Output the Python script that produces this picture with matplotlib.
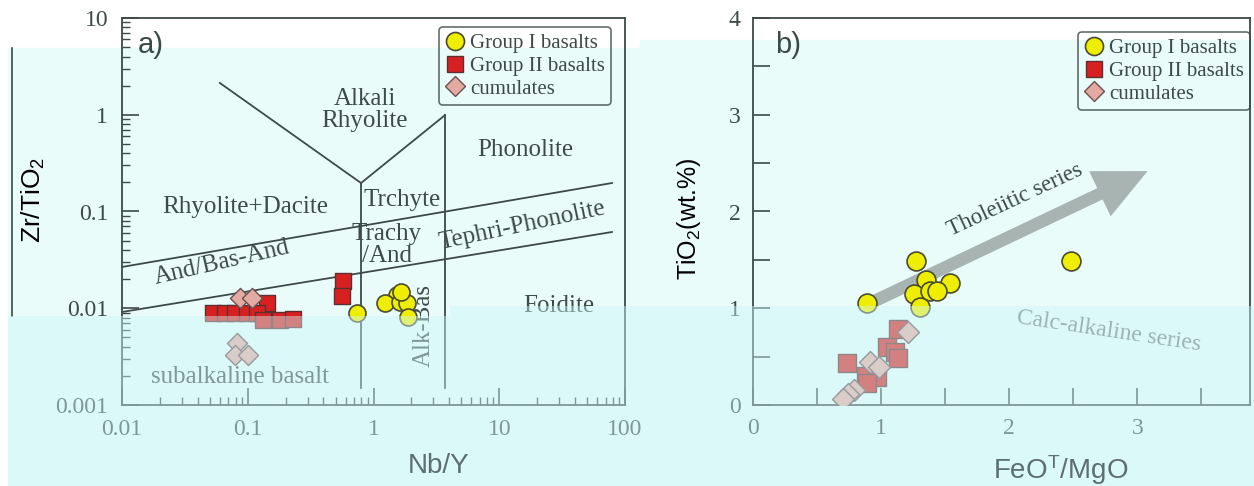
import matplotlib
matplotlib.use("Agg")
import matplotlib.pyplot as plt
from matplotlib.patches import Rectangle, FancyArrowPatch
from matplotlib.lines import Line2D
from matplotlib.ticker import FixedLocator, FuncFormatter, NullFormatter, LogLocator, MultipleLocator

SERIF = ["Liberation Serif", "DejaVu Serif"]
SANS = ["Liberation Sans", "DejaVu Sans"]
INK = "#3d4a47"
plt.rcParams.update({"font.family": SERIF, "mathtext.default": "regular",
                     "axes.edgecolor": INK, "xtick.color": INK, "ytick.color": INK,
                     "text.color": INK})

# ---- panel a: Nb/Y vs Zr/TiO2
a_g1_x = [0.74, 1.54, 1.23, 1.62, 1.85, 1.64, 1.88]
a_g1_y = [0.0089, 0.0137, 0.0113, 0.0116, 0.0113, 0.0147, 0.0081]
a_g2_x = [0.571, 0.566, 0.142, 0.053, 0.066, 0.079, 0.098, 0.118, 0.132, 0.18, 0.23]
a_g2_y = [0.0191, 0.0134, 0.0113, 0.0089, 0.0089, 0.0089, 0.0089, 0.0089, 0.0076, 0.0076, 0.0078]
a_cu_x = [0.087, 0.108, 0.082, 0.079, 0.100]
a_cu_y = [0.0128, 0.0128, 0.0044, 0.0033, 0.0033]

# Winchester & Floyd field boundaries
bnd_lines = [
    ([0.060, 0.796], [2.13, 0.197]),
    ([0.796, 3.7], [0.197, 0.99]),
    ([0.796, 0.796], [0.197, 0.0015]),
    ([3.7, 3.7], [0.99, 0.0015]),
    ([0.01, 78.8], [0.0267, 0.197]),
    ([0.01, 78.8], [0.00915, 0.0614]),
]
field_labels = [
    ("Alkali\nRhyolite", 0.855, 1.12, 0),
    ("Phonolite", 16.0, 0.43, 0),
    ("Rhyolite+Dacite", 0.095, 0.111, 0),
    ("Trchyte", 1.69, 0.131, 0),
    ("Trachy\n/And", 1.28, 0.045, 0),
    ("Tephri-Phonolite", 15.2, 0.072, 12),
    ("And/Bas-And", 0.062, 0.030, 13),
    ("Foidite", 30.0, 0.0105, 0),
    ("Alk-Bas", 2.52, 0.0067, 90),
    ("subalkaline basalt", 0.0867, 0.00195, 0),
]

# ---- panel b: FeOT/MgO vs TiO2
b_g1_x = [1.27, 2.48, 1.35, 1.54, 1.26, 1.38, 1.44, 0.89, 1.30]
b_g1_y = [1.49, 1.49, 1.29, 1.26, 1.15, 1.18, 1.18, 1.05, 1.01]
b_g2_x = [1.13, 1.05, 1.11, 1.13, 0.73, 0.88, 0.97, 0.89]
b_g2_y = [0.79, 0.60, 0.55, 0.49, 0.43, 0.30, 0.29, 0.23]
b_cu_x = [1.21, 0.91, 0.98, 0.79, 0.74, 0.70]
b_cu_y = [0.75, 0.44, 0.39, 0.16, 0.11, 0.06]

YEL, RED, PINK = "#f0ee00", "#d82020", "#e3aaa2"
def mk(size):
    g1 = dict(marker="o", s=size[0], c=YEL, edgecolors="#4a4a30", linewidths=1.2, zorder=5)
    g2 = dict(marker="s", s=size[1], c=RED, edgecolors="#5a3030", linewidths=1.0, zorder=4)
    cu = dict(marker="D", s=size[2], c=PINK, edgecolors="#6a5050", linewidths=1.0, zorder=4)
    return g1, g2, cu

fig = plt.figure(figsize=(12.54, 4.86), dpi=100)
W, H = 1254, 486
def fr(x0, y0, x1, y1):  # pixel box -> figure fraction
    return (x0 / W, 1 - y1 / H, (x1 - x0) / W, (y1 - y0) / H)

# background panels of the scan
bx, by, bw, bh = fr(8, 48, W, H)
fig.add_artist(Rectangle((bx, by), bw, bh, transform=fig.transFigure, color="#eafcf9", zorder=-2))
bx, by, bw, bh = fr(640, 40, W, 48)
fig.add_artist(Rectangle((bx, by), bw, bh, transform=fig.transFigure, color="#eafcf9", zorder=-2))
fig.add_artist(Line2D([12 / W, 12 / W], [1 - 48 / H, 1 - 316 / H], transform=fig.transFigure,
                      color=INK, lw=1.2, zorder=-1))

ax1 = fig.add_axes(fr(122, 18, 625, 405))
ax2 = fig.add_axes(fr(753, 18, 1250, 405))
for ax in (ax1, ax2):
    ax.set_facecolor("none")
    for sp in ax.spines.values():
        sp.set_linewidth(1.3)

# panel a
ax1.set_xscale("log"); ax1.set_yscale("log")
ax1.set_xlim(0.01, 100); ax1.set_ylim(0.001, 10)
for xs, ys in bnd_lines:
    ax1.plot(xs, ys, color=INK, lw=1.3, zorder=2)
for t, x, y, r in field_labels:
    ax1.text(x, y, t, ha="center", va="center", rotation=r, rotation_mode="anchor",
             fontsize=18, linespacing=1.0, zorder=3)
g1_kw, g2_kw, cu_kw = mk((150, 130, 105))
ax1.scatter(a_g2_x, a_g2_y, **g2_kw)
ax1.scatter(a_cu_x, a_cu_y, **cu_kw)
ax1.scatter(a_g1_x, a_g1_y, **g1_kw)
fmt = FuncFormatter(lambda v, p: f"{v:g}")
ax1.xaxis.set_major_locator(FixedLocator([0.01, 0.1, 1, 10, 100]))
ax1.yaxis.set_major_locator(FixedLocator([0.001, 0.01, 0.1, 1, 10]))
ax1.xaxis.set_major_formatter(fmt); ax1.yaxis.set_major_formatter(fmt)
for a in (ax1.xaxis, ax1.yaxis):
    a.set_minor_locator(LogLocator(base=10, subs=range(2, 10)))
    a.set_minor_formatter(NullFormatter())
ax1.tick_params(which="major", direction="in", length=12, width=1.2, labelsize=17, pad=10)
ax1.tick_params(which="minor", direction="in", length=6, width=1.0)
ax1.set_ylabel("Zr/TiO$_2$", family=SANS, fontsize=19)
ax1.set_xlabel("Nb/Y", family=SANS, fontsize=20)
ax1.xaxis.set_label_coords(0.63, -0.125)
ax1.yaxis.set_label_coords(-0.15, 0.53)
ax1.text(0.057, 0.93, "a)", transform=ax1.transAxes, family=SANS, fontsize=21,
         ha="center", va="center")

# panel b
ax2.set_xlim(0, 3.88); ax2.set_ylim(0, 4)
arr = FancyArrowPatch((0.91, 1.05), (3.10, 2.43),
                      arrowstyle="simple,head_length=1.9,head_width=1.8,tail_width=0.45",
                      mutation_scale=20, color="#a7b4b1", lw=0, zorder=2)
ax2.add_patch(arr)
ax2.text(2.05, 2.12, "Tholeiitic series", rotation=25, rotation_mode="anchor",
         ha="center", va="center", fontsize=16.5)
ax2.text(2.78, 0.76, "Calc-alkaline series", rotation=-8.5, rotation_mode="anchor",
         ha="center", va="center", fontsize=17, color="#707c7a")
g1_kw, g2_kw, cu_kw = mk((185, 160, 125))
ax2.scatter(b_g2_x, b_g2_y, **g2_kw)
ax2.scatter(b_cu_x, b_cu_y, **cu_kw)
ax2.scatter(b_g1_x, b_g1_y, **g1_kw)
ax2.xaxis.set_major_locator(MultipleLocator(0.5))
ax2.yaxis.set_major_locator(MultipleLocator(0.5))
intfmt = FuncFormatter(lambda v, p: f"{v:.0f}" if abs(v - round(v)) < 1e-6 else "")
ax2.xaxis.set_major_formatter(intfmt); ax2.yaxis.set_major_formatter(intfmt)
ax2.tick_params(direction="in", length=12, width=1.2, labelsize=17, pad=9)
ax2.set_ylabel("TiO$_2$(wt.%)", family=SANS, fontsize=18)
ax2.set_xlabel("FeO$^T$/MgO", family=SANS, fontsize=20)
ax2.xaxis.set_label_coords(0.62, -0.125)
ax2.yaxis.set_label_coords(-0.1, 0.48)
ax2.text(0.07, 0.93, "b)", transform=ax2.transAxes, family=SANS, fontsize=21,
         ha="center", va="center")

handles = [Line2D([], [], ls="none", marker="o", ms=13, mfc=YEL, mec="#4a4a30", mew=1.2),
           Line2D([], [], ls="none", marker="s", ms=12, mfc=RED, mec="#5a3030", mew=1.0),
           Line2D([], [], ls="none", marker="D", ms=10, mfc=PINK, mec="#6a5050", mew=1.0)]
names = ["Group I basalts", "Group II basalts", "cumulates"]
for ax, anchor in ((ax1, (0.972, 0.976)), (ax2, (1.0, 0.963))):
    lg = ax.legend(handles, names, loc="upper right", bbox_to_anchor=anchor, fontsize=15,
                   frameon=True, fancybox=True, handletextpad=0.2, handlelength=1.0,
                   borderpad=0.3, labelspacing=0.15, borderaxespad=0)
    lg.get_frame().set_facecolor("none")
    lg.get_frame().set_edgecolor(INK)
    lg.get_frame().set_linewidth(1.2)

# washed-out lower band of the scan
for x0, x1, y0 in ((8, 450, 316), (450, W, 306)):
    bx, by, bw, bh = fr(x0, y0, x1, H)
    fig.add_artist(Rectangle((bx, by), bw, bh, transform=fig.transFigure,
                             color="#cdf6f9", alpha=0.45, lw=0, zorder=10))

fig.savefig("out.png", dpi=100)
